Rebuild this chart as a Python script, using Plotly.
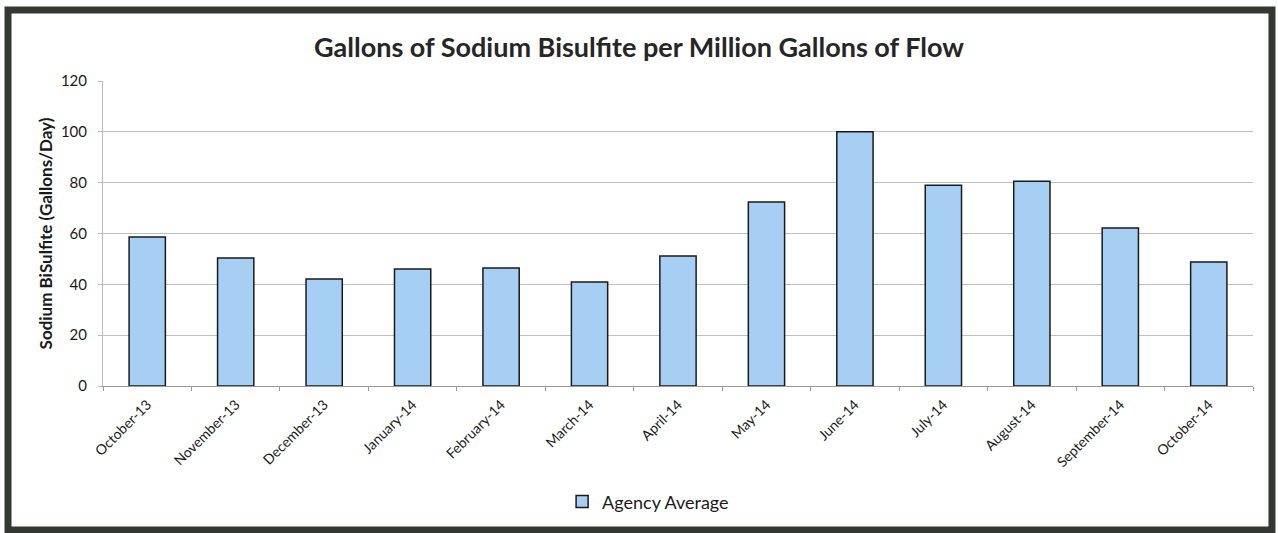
import plotly.graph_objects as go

months = ["October-13", "November-13", "December-13", "January-14", "February-14",
          "March-14", "April-14", "May-14", "June-14", "July-14", "August-14",
          "September-14", "October-14"]
agency_average = [58.6, 50.4, 42.1, 46.0, 46.4, 40.9, 51.1, 72.4, 100.0, 79.0, 80.6, 62.2, 48.8]
y_ticks = [0, 20, 40, 60, 80, 100, 120]

FONT = "Lato"

fig = go.Figure()
fig.add_trace(go.Bar(
    x=months, y=agency_average, name="Agency Average",
    marker=dict(color="#A6CFF3", line=dict(color="#1a1a1a", width=1.5)),
    showlegend=True,
))

fig.update_layout(
    width=1278, height=533,
    paper_bgcolor="white", plot_bgcolor="white",
    margin=dict(l=103, r=25, t=81, b=147, autoexpand=False),
    bargap=0.59,
    title=dict(text="<b>Gallons of Sodium Bisulfite per Million Gallons of Flow</b>",
               x=0.5, xref="container", y=0.91, yref="container", yanchor="middle",
               font=dict(family=FONT, size=27, color="#262626")),
    font=dict(family=FONT, color="#1a1a1a"),
    showlegend=True,
    legend=dict(orientation="h", x=0.474, xanchor="center",
                y=-0.38, yanchor="middle", itemwidth=30,
                font=dict(size=18, color="#1a1a1a")),
    shapes=[dict(type="rect", xref="paper", yref="paper",
                 x0=-0.0826, x1=1.0165, y0=-0.472, y1=1.2328,
                 line=dict(color="#333833", width=7))],
)
fig.update_xaxes(
    tickangle=-45, tickfont=dict(size=14),
    showline=True, linecolor="#999999", linewidth=1,
    ticks="outside", tickson="boundaries", ticklen=4, tickcolor="#999999",
    ticklabelstandoff=4,
)
fig.update_yaxes(
    range=[0, 120], tickvals=y_ticks, tickfont=dict(size=15),
    showgrid=True, gridcolor="#BFBFBF", gridwidth=1,
    showline=True, linecolor="#BBBBBB", ticks="outside", ticklen=4, tickcolor="#BBBBBB",
    ticklabelstandoff=8,
    zeroline=False,
    title=dict(text="<b>Sodium BiSulfite (Gallons/Day)</b>", font=dict(size=17), standoff=3),
)

fig.write_html("out.html", config={"displayModeBar": False},
               post_script="document.body.style.margin='0';")
